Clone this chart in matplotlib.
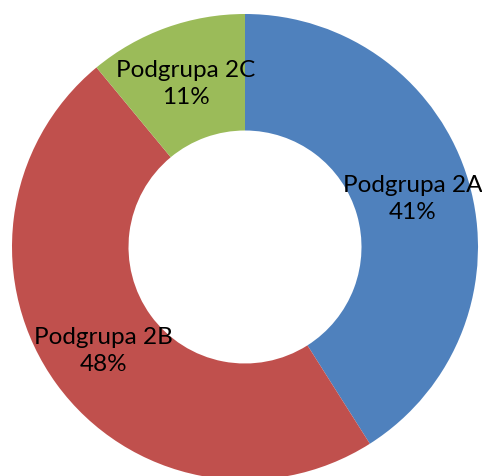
import matplotlib
matplotlib.use('Agg')
import matplotlib.pyplot as plt


labels = ['Podgrupa 2A', 'Podgrupa 2B', 'Podgrupa 2C']
shares = [41, 48, 11]
colors = ['#4F81BD', '#C0504D', '#9BBB59']


def label_fmt():
    it = iter(labels)
    return lambda pct: '%s\n%d%%' % (next(it), round(pct))


fig = plt.figure(figsize=(4.82, 4.77), dpi=100)
# circle centre at (245, 248) px, radius 233 px
ax = fig.add_axes([(245 - 233) / 482, (477 - 248 - 233) / 477, 466 / 482, 466 / 477])

wedges, texts, autotexts = ax.pie(
    shares, colors=colors, startangle=90, counterclock=False,
    radius=1.0, wedgeprops=dict(width=0.5, linewidth=0),
    autopct=label_fmt(), pctdistance=0.75,
    textprops=dict(fontsize=17.5, family='Lato', color='black',
                   linespacing=1.35))
for t in autotexts:
    t.set_horizontalalignment('center')
    t.set_verticalalignment('center')

ax.set_xlim(-1, 1)
ax.set_ylim(-1, 1)
ax.set_aspect('equal')
ax.axis('off')

fig.savefig('out.png', dpi=100)
